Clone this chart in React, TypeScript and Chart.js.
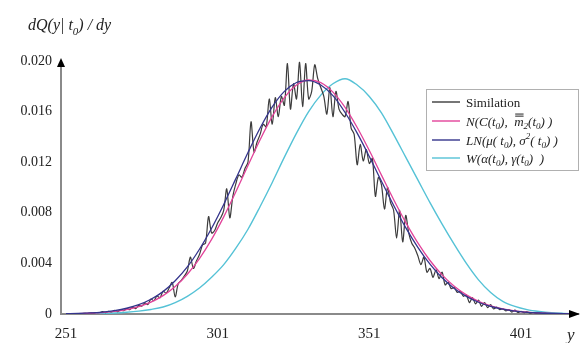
import React, { useEffect, useRef } from "react";
import { Chart, registerables } from "chart.js";

Chart.register(...registerables);

// ---------- data ----------
const gridX = [
  251, 255, 259, 263, 267, 271, 275, 279, 283, 287, 291, 295, 299, 303, 307,
  311, 315, 319, 323, 327, 331, 335, 339, 343, 347, 351, 355, 359, 363, 367,
  371, 375, 379, 383, 387, 391, 395, 399, 403, 407, 411, 415, 419,
];

const normalY = [
  0.0000167, 0.000033, 0.0000628, 0.000116, 0.000206, 0.000353, 0.000586,
  0.000939, 0.00145, 0.00217, 0.00314, 0.00438, 0.0059, 0.00768, 0.00966,
  0.01174, 0.01378, 0.01562, 0.01711, 0.0181, 0.0185, 0.01829, 0.01754,
  0.01633, 0.01474, 0.01292, 0.01098, 0.00905, 0.00724, 0.00562, 0.00423,
  0.00309, 0.00219, 0.00151, 0.00101, 0.00065, 0.00041, 0.00025, 0.000147,
  0.0000846, 0.000047, 0.0000254, 0.0000133,
];

const lognormalY = [
  0.0000235, 0.0000455, 0.0000853, 0.000155, 0.00027, 0.000455, 0.000742,
  0.00117, 0.00177, 0.00263, 0.00372, 0.00512, 0.00678, 0.00866, 0.0107,
  0.01276, 0.0147, 0.01637, 0.0176, 0.0183, 0.01845, 0.0181, 0.01726,
  0.01593, 0.0143, 0.01245, 0.0105, 0.0086, 0.00683, 0.00527, 0.00394,
  0.00286, 0.00202, 0.00139, 0.00093, 0.0006, 0.00038, 0.00023, 0.000135,
  0.000078, 0.000043, 0.000023, 0.000012,
];

const weibullY = [
  0, 0.00001, 0.00002, 0.00004, 0.00008, 0.00014, 0.00023, 0.00036, 0.00055,
  0.0009, 0.0014, 0.00205, 0.0029, 0.0039, 0.0052, 0.0067, 0.0085, 0.0104,
  0.0124, 0.0143, 0.016, 0.0173, 0.0182, 0.0186, 0.0181, 0.0172, 0.0159,
  0.0142, 0.0124, 0.0106, 0.0088, 0.0071, 0.0055, 0.004, 0.0027, 0.0017,
  0.001, 0.0006, 0.00035, 0.0002, 0.0001, 0.00005, 0.00002,
];

const simX = [
  256, 257, 258, 259, 260, 261, 262, 263, 264, 265,
  266, 267, 268, 269, 270, 271, 272, 273, 274, 275,
  276, 277, 278, 279, 280, 281, 282, 283, 284, 285,
  286, 287, 288, 289, 290, 291, 292, 293, 294, 295,
  296, 297, 298, 299, 300, 301, 302, 303, 304, 305,
  306, 307, 308, 309, 310, 311, 312, 313, 314, 315,
  316, 317, 318, 319, 320, 321, 322, 323, 324, 325,
  326, 327, 328, 329, 330, 331, 332, 333, 334, 335,
  336, 337, 338, 339, 340, 341, 342, 343, 344, 345,
  346, 347, 348, 349, 350, 351, 352, 353, 354, 355,
  356, 357, 358, 359, 360, 361, 362, 363, 364, 365,
  366, 367, 368, 369, 370, 371, 372, 373, 374, 375,
  376, 377, 378, 379, 380, 381, 382, 383, 384, 385,
  386, 387, 388, 389, 390, 391, 392, 393, 394, 395,
  396, 397, 398, 399, 400, 401, 402, 403, 404, 405,
  406, 407, 408, 409, 410, 411, 412, 413, 414, 415,
  416, 417, 418,
];

const simY = [
  0.00003, 0.00005, 0.00004, 0.00008, 0.00006, 0.00012, 0.0001, 0.00018, 0.00011, 0.0002,
  0.00017, 0.00028, 0.00019, 0.00032, 0.00026, 0.00042, 0.00035, 0.00055, 0.00043, 0.0007,
  0.00062, 0.00088, 0.00075, 0.00118, 0.00105, 0.00142, 0.00128, 0.0018, 0.00165, 0.00205,
  0.0025, 0.00135, 0.0024, 0.00265, 0.003, 0.0034, 0.0045, 0.0036, 0.0042, 0.0047,
  0.00545, 0.0056, 0.0077, 0.0064, 0.0066, 0.0072, 0.0076, 0.0082, 0.0099, 0.0076,
  0.0093, 0.0103, 0.011, 0.0108, 0.0115, 0.012, 0.0152, 0.0128, 0.0136, 0.0142,
  0.015, 0.0148, 0.017, 0.015, 0.0171, 0.0156, 0.0172, 0.0165, 0.0198, 0.0162,
  0.0182, 0.017, 0.0199, 0.0164, 0.0198, 0.017, 0.0176, 0.0197, 0.0186, 0.0179,
  0.0172, 0.0158, 0.0179, 0.0156, 0.0176, 0.0162, 0.0158, 0.0156, 0.0168, 0.0147,
  0.0142, 0.0118, 0.0134, 0.0121, 0.013, 0.0119, 0.0123, 0.0093, 0.0108, 0.0102,
  0.0083, 0.01, 0.0088, 0.0082, 0.006, 0.0082, 0.0057, 0.0078, 0.0064, 0.0056,
  0.0052, 0.0046, 0.0039, 0.0045, 0.0033, 0.0036, 0.0029, 0.0035, 0.0028, 0.0033,
  0.0023, 0.0025, 0.002, 0.0021, 0.0017, 0.0018, 0.0014, 0.0015, 0.0009, 0.0013,
  0.0008, 0.0011, 0.0006, 0.0009, 0.0005, 0.00075, 0.0004, 0.00055, 0.00035, 0.0004,
  0.00025, 0.00035, 0.00015, 0.0003, 0.00012, 0.0002, 0.0001, 0.00018, 0.00006, 0.00012,
  0.00005, 0.00008, 0.00003, 0.00006, 0.00002, 0.00004, 0.00002, 0.00003, 0.00001, 0.00002,
  0.00001, 0.00001, 0,
];

const xTicks = [251, 301, 351, 401];
const yTicks = [0, 0.004, 0.008, 0.012, 0.016, 0.02];

const seriesNames = [
  "Similation",
  "N(C(t0), m2(t0))",
  "LN(μ(t0), σ2(t0))",
  "W(α(t0), γ(t0))",
];
const seriesColors = ["#3c3c3c", "#e2439a", "#34348c", "#55c2d6"];

// ---------- rich text helpers ----------
type Run = { t: string; sub?: boolean; sup?: boolean; bar?: boolean; up?: boolean };

const FAMILY = "'Liberation Serif', 'DejaVu Serif', 'Times New Roman', serif";

function drawRuns(
  ctx: CanvasRenderingContext2D,
  x: number,
  y: number,
  runs: Run[],
  size: number,
  italic: boolean
) {
  let cx = x;
  ctx.textAlign = "left";
  ctx.textBaseline = "alphabetic";
  for (const r of runs) {
    const small = r.sub || r.sup;
    const s = small ? Math.round(size * 0.7) : size;
    const style = r.up ? "" : italic ? "italic " : "";
    ctx.font = `${style}${s}px ${FAMILY}`;
    const dy = r.sub ? size * 0.3 : r.sup ? -size * 0.45 : 0;
    ctx.fillText(r.t, cx, y + dy);
    const w = ctx.measureText(r.t).width;
    if (r.bar) {
      ctx.save();
      ctx.lineWidth = 1;
      ctx.strokeStyle = ctx.fillStyle as string;
      ctx.beginPath();
      ctx.moveTo(cx + 1, y - size * 0.72);
      ctx.lineTo(cx + w, y - size * 0.72);
      ctx.moveTo(cx + 1, y - size * 0.88);
      ctx.lineTo(cx + w, y - size * 0.88);
      ctx.stroke();
      ctx.restore();
    }
    cx += w;
  }
}

const titleRuns: Run[] = [{ t: "dQ(y| t" }, { t: "0", sub: true }, { t: ") / dy" }];

const legendRuns: Run[][] = [
  [{ t: seriesNames[0], up: true }],
  [
    { t: "N(C(t" }, { t: "0", sub: true }, { t: "),  " },
    { t: "m", bar: true }, { t: "2", sub: true }, { t: "(t" }, { t: "0", sub: true }, { t: ") )" },
  ],
  [
    { t: "LN(μ( t" }, { t: "0", sub: true }, { t: "), σ" }, { t: "2", sup: true },
    { t: "( t" }, { t: "0", sub: true }, { t: ") )" },
  ],
  [
    { t: "W(α(t" }, { t: "0", sub: true }, { t: "), γ(t" }, { t: "0", sub: true }, { t: ")  )" },
  ],
];

const decorPlugin = {
  id: "decor",
  afterDraw(chart: any) {
    const ctx: CanvasRenderingContext2D = chart.ctx;
    const { left, top, right, bottom } = chart.chartArea;
    ctx.save();
    // arrows
    ctx.fillStyle = "#000";
    ctx.beginPath();
    ctx.moveTo(left, top - 3);
    ctx.lineTo(left - 4, top + 6);
    ctx.lineTo(left + 4, top + 6);
    ctx.closePath();
    ctx.fill();
    ctx.beginPath();
    ctx.moveTo(right + 2, bottom);
    ctx.lineTo(right - 9, bottom - 4);
    ctx.lineTo(right - 9, bottom + 4);
    ctx.closePath();
    ctx.fill();

    // title and axis name
    ctx.fillStyle = "#222";
    drawRuns(ctx, 28, 30, titleRuns, 16, true);
    drawRuns(ctx, 567, 340, [{ t: "y" }], 17, true);

    // legend
    const bx = 426.5, by = 89.5, bw = 152, bh = 81;
    ctx.fillStyle = "#fff";
    ctx.fillRect(bx, by, bw, bh);
    ctx.strokeStyle = "#b0b0b0";
    ctx.lineWidth = 1;
    ctx.strokeRect(bx, by, bw, bh);
    const rows = [102, 121, 140, 158];
    rows.forEach((ry, i) => {
      ctx.strokeStyle = seriesColors[i];
      ctx.lineWidth = 1.4;
      ctx.beginPath();
      ctx.moveTo(432, ry);
      ctx.lineTo(460, ry);
      ctx.stroke();
      ctx.fillStyle = "#222";
      drawRuns(ctx, 466, ry + 4.5, legendRuns[i], 13, true);
    });
    ctx.restore();
  },
};

function pts(xs: number[], ys: number[]) {
  return xs.map((x, i) => ({ x, y: ys[i] }));
}

export default function App() {
  const ref = useRef<HTMLCanvasElement | null>(null);

  useEffect(() => {
    document.body.style.margin = "0";
    if (!ref.current) return;
    Chart.defaults.font.family = FAMILY;
    const chart = new Chart(ref.current, {
      type: "line",
      data: {
        datasets: [
          {
            label: seriesNames[0],
            data: pts(simX, simY),
            borderColor: seriesColors[0],
            borderWidth: 1.2,
            tension: 0.3,
            order: 2,
          },
          {
            label: seriesNames[1],
            data: pts(gridX, normalY),
            borderColor: seriesColors[1],
            borderWidth: 1.3,
            cubicInterpolationMode: "monotone",
            order: 1,
          },
          {
            label: seriesNames[2],
            data: pts(gridX, lognormalY),
            borderColor: seriesColors[2],
            borderWidth: 1.3,
            cubicInterpolationMode: "monotone",
            order: 0,
          },
          {
            label: seriesNames[3],
            data: pts(gridX, weibullY),
            borderColor: seriesColors[3],
            borderWidth: 1.4,
            cubicInterpolationMode: "monotone",
            order: 3,
          },
        ],
      },
      options: {
        responsive: false,
        animation: false,
        layout: { padding: { top: 61, right: 6, left: 0, bottom: 0 } },
        elements: { point: { radius: 0 } },
        plugins: {
          legend: { display: false },
          tooltip: { enabled: false },
          title: { display: false },
        },
        scales: {
          x: {
            type: "linear",
            min: 249.35,
            max: 419.8,
            grid: { display: false, drawTicks: false },
            border: { display: true, color: "#8a8a8a", width: 2 },
            afterBuildTicks: (s: any) => {
              s.ticks = xTicks.map((v) => ({ value: v }));
            },
            afterFit: (s: any) => {
              s.height = 29;
            },
            ticks: {
              padding: 11,
              color: "#222",
              font: { size: 15 },
              maxRotation: 0,
              autoSkip: false,
              callback: (v: any) => String(v),
            },
          },
          y: {
            min: 0,
            max: 0.02,
            grid: { display: false, drawTicks: false },
            border: { display: true, color: "#8a8a8a", width: 2 },
            afterBuildTicks: (s: any) => {
              s.ticks = yTicks.map((v) => ({ value: v }));
            },
            afterFit: (s: any) => {
              s.width = 61;
            },
            ticks: {
              padding: 9,
              color: "#222",
              font: { size: 14 },
              callback: (v: any) => (Number(v) === 0 ? "0" : Number(v).toFixed(3)),
            },
          },
        },
      },
      plugins: [decorPlugin],
    } as any);
    return () => chart.destroy();
  }, []);

  return (
    <canvas
      ref={ref}
      width={584}
      height={343}
      style={{ display: "block", width: 584, height: 343 }}
    />
  );
}
